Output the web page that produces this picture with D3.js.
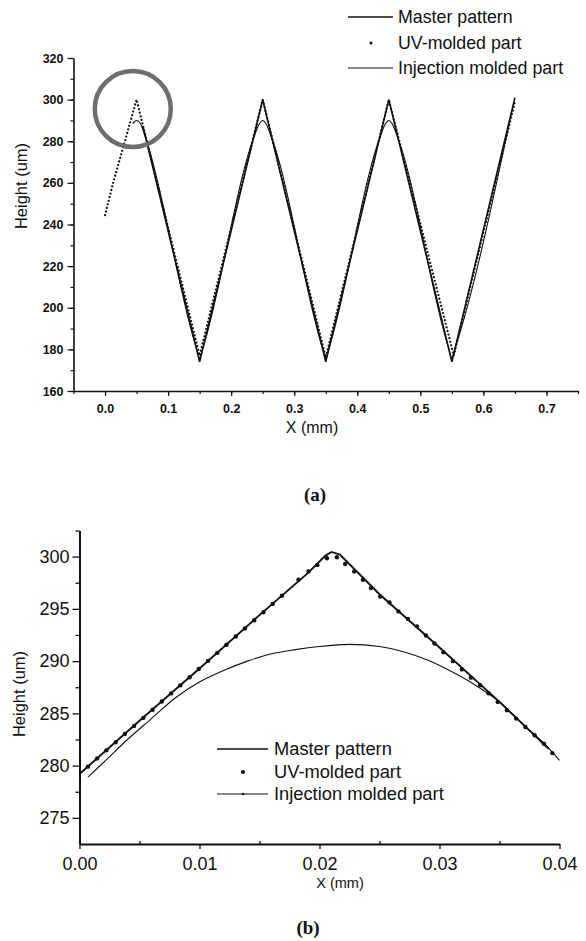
<!DOCTYPE html>
<html>
<head>
<meta charset="utf-8">
<script src="https://cdn.jsdelivr.net/npm/d3@7"></script>
<style>
  body { margin: 0; background: #fff; }
  svg text { font-family: "Liberation Sans", Arial, sans-serif; fill: #111; }
</style>
</head>
<body>
<script>
// ---- panel (a) data ----
const aMasterX = [0.06, 0.15, 0.25, 0.35, 0.45, 0.55, 0.65];
const aMasterY = [287.4, 174, 300, 174, 300, 174, 301];
const aUvX = [0, 0.012, 0.05, 0.15, 0.25, 0.35, 0.45, 0.553, 0.65];
const aUvY = [244.5, 259, 300, 177, 300, 176, 300, 177, 299];
const aInjX = [0.044, 0.05, 0.056, 0.065, 0.145, 0.15, 0.155, 0.235, 0.245, 0.25, 0.255, 0.265,
               0.345, 0.35, 0.355, 0.435, 0.445, 0.45, 0.455, 0.465, 0.545, 0.55, 0.555, 0.645];
const aInjY = [288.5, 290, 288.5, 281, 180.5, 176, 180.5, 281, 288.5, 290, 288.5, 281,
               180.5, 176, 180.5, 281, 288.5, 290, 288.5, 281, 180.5, 176, 180.5, 294.5];
const aXTicks = [0, 0.1, 0.2, 0.3, 0.4, 0.5, 0.6, 0.7];
const aYTicks = [160, 180, 200, 220, 240, 260, 280, 300, 320];

// ---- panel (b) data ----
const bMasterX = [0, 0.005, 0.010, 0.015, 0.019, 0.0205, 0.021, 0.0217, 0.025, 0.030, 0.035, 0.0391];
const bMasterY = [279.2, 284.3, 289.3, 294.4, 298.4, 300.1, 300.45, 300.2, 296.4, 291.3, 286.1, 281.6];
const bUvX = [0.0007, 0.00147, 0.00224, 0.00301, 0.00378, 0.00455, 0.00532, 0.00609, 0.00686, 0.00763,
              0.0084, 0.00917, 0.00994, 0.01071, 0.01148, 0.01225, 0.01302, 0.01379, 0.01456, 0.01533,
              0.0161, 0.01687, 0.01825, 0.01908, 0.01983, 0.02062, 0.02145, 0.02214, 0.02289, 0.02362,
              0.02428, 0.02506, 0.02583, 0.02658, 0.02737, 0.02812, 0.02887, 0.02958, 0.03033, 0.03112,
              0.03187, 0.03262, 0.03339, 0.03408, 0.03485, 0.03562, 0.03639, 0.03716, 0.03793, 0.0387, 0.0394];
const bUvY = [279.9, 280.68, 281.46, 282.24, 283.02, 283.8, 284.57, 285.35, 286.13, 286.91,
              287.68, 288.46, 289.24, 290.02, 290.79, 291.57, 292.35, 293.13, 293.91, 294.68,
              295.46, 296.26, 297.78, 298.57, 299.21, 299.85, 299.94, 299.3, 298.57, 297.78,
              296.99, 296.19, 295.62, 294.76, 294.04, 293.33, 292.45, 291.69, 290.86, 290.0,
              289.21, 288.42, 287.69, 286.93, 286.1, 285.3, 284.5, 283.7, 282.9, 282.1, 281.2];
const bInjX = [0.0007, 0.002, 0.004, 0.006, 0.008, 0.010, 0.012, 0.014, 0.016, 0.018, 0.020, 0.0225,
               0.025, 0.027, 0.029, 0.031, 0.033, 0.035, 0.037, 0.039, 0.040];
const bInjY = [278.9, 280.3, 282.5, 284.5, 286.5, 288.0, 289.1, 290.0, 290.7, 291.1, 291.4, 291.6,
               291.4, 290.9, 290.1, 289.0, 287.7, 286.1, 283.9, 281.8, 280.5];
const bXTicks = [0, 0.01, 0.02, 0.03, 0.04];
const bYTicks = [275, 280, 285, 290, 295, 300];

const legendLabels = ['Master pattern', 'UV-molded part', 'Injection molded part'];

const zip = (xs, ys) => xs.map((x, i) => [x, ys[i]]);

const svg = d3.select('body').append('svg')
    .attr('width', 586)
    .attr('height', 941);

// ================= panel (a) =================
const ax = d3.scaleLinear().domain([-0.05, 0.75]).range([73.5, 578]);
const ay = d3.scaleLinear().domain([160, 320]).range([391, 58]);

const ga = svg.append('g');

// minor ticks
ga.append('g')
    .attr('transform', 'translate(0,391)')
    .call(d3.axisBottom(ax).tickValues(d3.range(-0.05, 0.751, 0.05)).tickSize(3).tickFormat(''))
    .call(g => g.select('.domain').remove());
ga.append('g')
    .attr('transform', 'translate(73.5,0)')
    .call(d3.axisLeft(ay).tickValues(d3.range(160, 321, 10)).tickSize(3).tickFormat(''))
    .call(g => g.select('.domain').remove());

const axA = ga.append('g')
    .attr('transform', 'translate(0,391)')
    .call(d3.axisBottom(ax).tickValues(aXTicks).tickSize(5).tickSizeOuter(0).tickFormat(d3.format('.1f')));
axA.selectAll('text').attr('dy', '0').attr('y', 22)
    .style('font-size', '12.5px').style('font-weight', 'bold');

const ayA = ga.append('g')
    .attr('transform', 'translate(73.5,0)')
    .call(d3.axisLeft(ay).tickValues(aYTicks).tickSize(6).tickSizeOuter(0));
ayA.selectAll('text').attr('x', -10)
    .style('font-size', '12.5px').style('font-weight', 'bold');

ga.selectAll('.domain').attr('stroke', '#111').attr('stroke-width', 1.6);
ga.selectAll('.tick line').attr('stroke', '#111').attr('stroke-width', 1.2);

const lineA = d3.line().x(d => ax(d[0])).y(d => ay(d[1]));

ga.append('path')
    .datum(zip(aUvX, aUvY))
    .attr('d', lineA)
    .attr('fill', 'none')
    .attr('stroke', '#111')
    .attr('stroke-width', 2.3)
    .attr('stroke-linecap', 'round')
    .attr('stroke-dasharray', '0 3.7');

ga.append('path')
    .datum(zip(aMasterX, aMasterY))
    .attr('d', lineA)
    .attr('fill', 'none')
    .attr('stroke', '#111')
    .attr('stroke-width', 1.6);

ga.append('path')
    .datum(zip(aInjX, aInjY))
    .attr('d', lineA.curve(d3.curveMonotoneX))
    .attr('fill', 'none')
    .attr('stroke', '#111')
    .attr('stroke-width', 1.1);

// highlight circle around first peak
ga.append('circle')
    .attr('cx', ax(0.044))
    .attr('cy', ay(295.5))
    .attr('r', 38)
    .attr('fill', 'none')
    .attr('stroke', '#6e6e6e')
    .attr('stroke-width', 4.5);

// legend (a)
const legA = ga.append('g');
[17, 43, 68].forEach((y, i) => {
  if (i === 1) {
    legA.append('circle').attr('cx', 371).attr('cy', y).attr('r', 1.5).attr('fill', '#111');
  } else {
    legA.append('line').attr('x1', 348).attr('x2', 393).attr('y1', y).attr('y2', y)
        .attr('stroke', '#111').attr('stroke-width', i === 0 ? 1.4 : 1);
  }
  legA.append('text').attr('x', 398).attr('y', y + 6)
      .style('font-size', '17.8px').text(legendLabels[i]);
});

ga.append('text')
    .attr('transform', 'translate(27,186) rotate(-90)')
    .attr('text-anchor', 'middle')
    .style('font-size', '16.5px')
    .text('Height (um)');
ga.append('text')
    .attr('x', 312).attr('y', 433)
    .attr('text-anchor', 'middle')
    .style('font-size', '16px')
    .text('X (mm)');
ga.append('text')
    .attr('x', 315).attr('y', 501)
    .attr('text-anchor', 'middle')
    .style('font-family', '"Liberation Serif", "Times New Roman", serif')
    .style('font-weight', 'bold')
    .style('font-size', '19px')
    .text('(a)');

// ================= panel (b) =================
const bx = d3.scaleLinear().domain([0, 0.04]).range([79.5, 559.5]);
const by = d3.scaleLinear().domain([272.5, 302.5]).range([844, 530.5]);

const gb = svg.append('g');

gb.append('g')
    .attr('transform', 'translate(0,844)')
    .call(d3.axisTop(bx).tickValues([0.005, 0.015, 0.025, 0.035]).tickSize(3).tickFormat(''))
    .call(g => g.select('.domain').remove());
gb.append('g')
    .attr('transform', 'translate(79.5,0)')
    .call(d3.axisLeft(by).tickValues([277.5, 282.5, 287.5, 292.5, 297.5, 302.5]).tickSize(4).tickFormat(''))
    .call(g => g.select('.domain').remove());

const bxA = gb.append('g')
    .attr('transform', 'translate(0,844)')
    .call(d3.axisBottom(bx).tickValues(bXTicks).tickSize(5).tickSizeOuter(0).tickFormat(d3.format('.2f')));
bxA.selectAll('text').attr('dy', '0').attr('y', 26).style('font-size', '18px');

const byA = gb.append('g')
    .attr('transform', 'translate(79.5,0)')
    .call(d3.axisLeft(by).tickValues(bYTicks).tickSize(7).tickSizeOuter(0));
byA.selectAll('text').attr('x', -10).style('font-size', '18px');

gb.selectAll('.domain').attr('stroke', '#111').attr('stroke-width', 2);
gb.selectAll('.tick line').attr('stroke', '#111').attr('stroke-width', 1.3);

const lineB = d3.line().x(d => bx(d[0])).y(d => by(d[1]));

gb.append('path')
    .datum(zip(bMasterX, bMasterY))
    .attr('d', lineB)
    .attr('fill', 'none')
    .attr('stroke', '#111')
    .attr('stroke-width', 1.9);

gb.append('path')
    .datum(zip(bInjX, bInjY))
    .attr('d', lineB.curve(d3.curveMonotoneX))
    .attr('fill', 'none')
    .attr('stroke', '#111')
    .attr('stroke-width', 1.1);

gb.selectAll('circle.uv')
    .data(zip(bUvX, bUvY))
    .enter()
    .append('circle')
    .attr('class', 'uv')
    .attr('cx', d => bx(d[0]))
    .attr('cy', d => by(d[1]))
    .attr('r', 2.2)
    .attr('fill', '#111');

// legend (b)
const legB = gb.append('g');
[749, 772, 794].forEach((y, i) => {
  if (i === 1) {
    legB.append('circle').attr('cx', 243).attr('cy', y).attr('r', 2.1).attr('fill', '#111');
  } else {
    legB.append('line').attr('x1', 217).attr('x2', 268).attr('y1', y).attr('y2', y)
        .attr('stroke', '#111').attr('stroke-width', i === 0 ? 1.6 : 1.1);
    if (i === 2) legB.append('circle').attr('cx', 243).attr('cy', y).attr('r', 1.2).attr('fill', '#111');
  }
  legB.append('text').attr('x', 274).attr('y', y + 6)
      .style('font-size', '18.3px').text(legendLabels[i]);
});

gb.append('text')
    .attr('transform', 'translate(25,694) rotate(-90)')
    .attr('text-anchor', 'middle')
    .style('font-size', '16.5px')
    .text('Height (um)');
gb.append('text')
    .attr('x', 340).attr('y', 888)
    .attr('text-anchor', 'middle')
    .style('font-size', '14.5px')
    .text('X (mm)');
gb.append('text')
    .attr('x', 308).attr('y', 934)
    .attr('text-anchor', 'middle')
    .style('font-family', '"Liberation Serif", "Times New Roman", serif')
    .style('font-weight', 'bold')
    .style('font-size', '19px')
    .text('(b)');
</script>
</body>
</html>
